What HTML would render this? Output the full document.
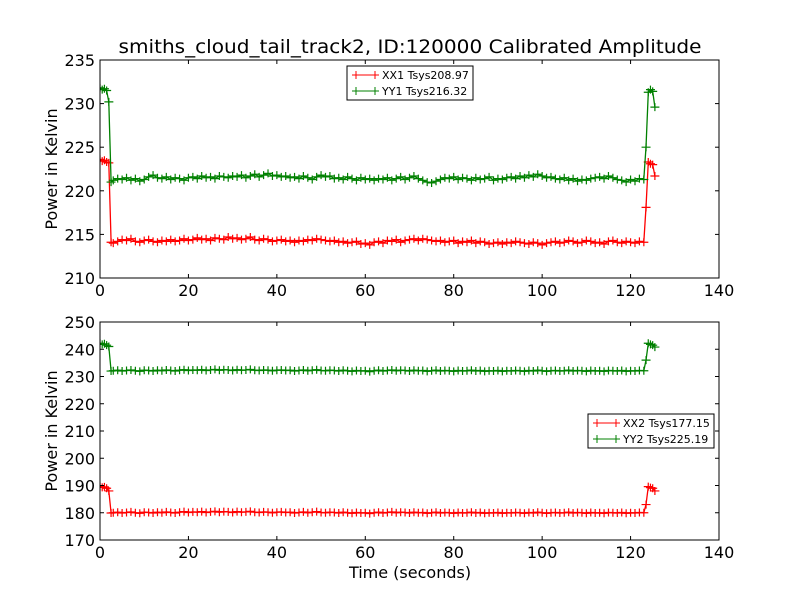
<!DOCTYPE html>
<html><head><meta charset="utf-8"><style>
body{margin:0;background:#fff;}
svg{display:block;font-family:"DejaVu Sans","Liberation Sans",sans-serif;}
</style></head><body>
<svg id="chart" width="800" height="600"></svg>
<script>
const times=[0,0.5,1,1.5,2,2.5].concat(Array.from({length:121},(_,i)=>3+i)).concat([123.5,124,124.5,125,125.5]);
const xx1=[223.6,223.4,223.5,223.3,223.2,214.1,
214.0,214.2,214.4,214.3,214.5,214.2,214.1,214.3,214.4,214.2,
214.1,214.3,214.2,214.4,214.2,214.3,214.5,214.3,214.4,214.6,
214.4,214.5,214.3,214.6,214.5,214.4,214.7,214.5,214.6,214.4,
214.5,214.7,214.4,214.3,214.5,214.4,214.2,214.3,214.4,214.2,
214.3,214.1,214.3,214.2,214.4,214.3,214.5,214.4,214.3,214.2,
214.3,214.1,214.2,214.0,214.1,214.2,213.9,214.0,213.8,214.1,
214.2,214.0,214.3,214.2,214.4,214.1,214.3,214.4,214.5,214.3,
214.5,214.4,214.3,214.2,214.3,214.1,214.2,214.3,214.0,214.2,
214.1,214.3,214.0,214.2,214.1,213.9,214.0,214.1,213.9,214.1,
214.0,214.2,214.1,214.0,213.9,214.1,214.0,213.8,214.0,214.1,
214.2,214.0,214.1,214.3,214.2,214.0,214.1,214.3,214.2,214.0,
214.1,213.9,214.2,214.3,214.1,214.0,214.2,214.1,214.0,214.2,
214.1,218.1,223.3,223.1,223.0,221.7];
const yy1=[231.8,231.6,231.7,231.5,230.2,221.0,
221.2,221.4,221.3,221.5,221.2,221.4,221.1,221.3,221.6,221.8,
221.5,221.4,221.6,221.3,221.5,221.4,221.2,221.5,221.6,221.4,
221.7,221.5,221.6,221.4,221.7,221.6,221.5,221.7,221.6,221.8,
221.5,221.7,221.9,221.6,221.8,222.0,221.7,221.8,221.6,221.7,
221.5,221.6,221.4,221.7,221.5,221.3,221.6,221.8,221.6,221.7,
221.4,221.5,221.3,221.6,221.4,221.2,221.5,221.3,221.4,221.2,
221.4,221.3,221.5,221.2,221.4,221.6,221.3,221.5,221.7,221.4,
221.2,221.0,220.9,221.1,221.3,221.5,221.4,221.6,221.3,221.5,
221.4,221.2,221.5,221.3,221.4,221.6,221.2,221.4,221.3,221.5,
221.6,221.4,221.7,221.5,221.8,221.6,221.9,221.7,221.5,221.6,
221.4,221.3,221.5,221.2,221.4,221.1,221.3,221.2,221.4,221.5,
221.6,221.4,221.7,221.5,221.3,221.2,221.0,221.3,221.1,221.4,
221.3,225.0,231.3,231.6,231.4,229.6];
const xx2=[189.6,189.3,189.5,189.0,188.0,179.9,
180.0,180.2,179.9,180.1,180.3,180.0,179.8,180.2,180.1,179.9,
180.2,180.0,180.3,180.1,179.9,180.2,180.4,180.1,180.3,180.2,
180.4,180.1,180.3,180.5,180.2,180.4,180.3,180.1,180.4,180.2,
180.3,180.5,180.2,180.1,180.3,180.2,180.0,180.2,180.3,180.1,
180.2,179.9,180.1,180.3,180.0,180.2,180.4,180.1,180.0,180.2,
180.1,179.9,180.2,180.0,179.8,180.1,179.9,180.0,179.7,180.0,
180.2,179.9,180.1,180.3,180.0,180.2,180.1,179.9,180.2,180.0,
180.1,179.8,180.0,180.2,179.9,180.1,180.0,179.8,180.1,179.9,
180.0,180.2,179.9,180.1,179.8,180.0,179.9,180.1,179.8,180.0,
179.9,180.1,180.0,179.8,180.1,179.9,180.2,180.0,179.8,180.0,
180.1,179.9,180.0,180.2,179.9,180.1,180.0,179.8,180.1,179.9,
180.0,179.8,180.1,180.0,179.9,180.1,179.8,180.0,179.9,180.1,
180.0,183.0,189.6,189.2,189.0,188.0];
const yy2=[242.2,241.8,242.0,241.5,241.0,232.0,
232.1,232.3,232.0,232.2,232.4,232.1,231.9,232.3,232.2,232.0,
232.3,232.1,232.4,232.2,232.0,232.3,232.5,232.2,232.4,232.3,
232.5,232.2,232.4,232.6,232.3,232.5,232.4,232.2,232.5,232.3,
232.4,232.6,232.3,232.2,232.4,232.3,232.1,232.3,232.4,232.2,
232.3,232.0,232.2,232.4,232.1,232.3,232.5,232.2,232.1,232.3,
232.2,232.0,232.3,232.1,231.9,232.2,232.0,232.1,231.8,232.1,
232.3,232.0,232.2,232.4,232.1,232.3,232.2,232.0,232.3,232.1,
232.2,231.9,232.1,232.3,232.0,232.2,232.1,231.9,232.2,232.0,
232.1,232.3,232.0,232.2,231.9,232.1,232.0,232.2,231.9,232.1,
232.0,232.2,232.1,231.9,232.2,232.0,232.3,232.1,231.9,232.1,
232.2,232.0,232.1,232.3,232.0,232.2,232.1,231.9,232.2,232.0,
232.1,231.9,232.2,232.1,232.0,232.2,231.9,232.1,232.0,232.2,
232.1,236.0,242.2,241.8,241.5,240.8];
const xTicks=[0,20,40,60,80,100,120,140];
const yTicksTop=[210,215,220,225,230,235];
const yTicksBot=[170,180,190,200,210,220,230,240,250];
const legendTop=["XX1 Tsys208.97","YY1 Tsys216.32"];
const legendBot=["XX2 Tsys177.15","YY2 Tsys225.19"];

const NS="http://www.w3.org/2000/svg";
const svg=document.getElementById('chart');
function mk(tag,attrs,parent){const e=document.createElementNS(NS,tag);for(const k in attrs)e.setAttribute(k,attrs[k]);(parent||svg).appendChild(e);return e;}
const X0=100,X1=719,xMin=0,xMax=140;
const xs=v=>X0+(v-xMin)/(xMax-xMin)*(X1-X0);

function panel(top,bot,ymin,ymax,yTicks,series,legend,lx,ly,name){
  const ys=v=>bot-(v-ymin)/(ymax-ymin)*(bot-top);
  const g=mk('g',{});
  
  
  mk('rect',{x:X0,y:top,width:X1-X0,height:bot-top,fill:'#fff',stroke:'none'},g);
  const clip=mk('clipPath',{id:'c'+name},g);
  mk('rect',{x:X0,y:top,width:X1-X0,height:bot-top},clip);
  series.forEach(s=>{
    const sg=mk('g',{'clip-path':'url(#c'+name+')'},g);
    
    
    const pts=times.map((t,i)=>xs(t).toFixed(1)+','+ys(s.vals[i]).toFixed(1)).join(' ');
    mk('polyline',{points:pts,fill:'none',stroke:s.color,'stroke-width':1.3},sg);
    let d='';
    times.forEach((t,i)=>{const x=xs(t),y=ys(s.vals[i]);d+=`M${x-4.5},${y}h9M${x},${y-4}v8`;});
    mk('path',{d:d,stroke:s.color,'stroke-width':1.2,fill:'none'},sg);
  });
  mk('rect',{x:X0,y:top,width:X1-X0,height:bot-top,fill:'none',stroke:'#000','stroke-width':1},g);
  xTicks.forEach(t=>{const x=xs(t);
    mk('line',{x1:x,x2:x,y1:bot,y2:bot-4,stroke:'#000'},g);
    mk('line',{x1:x,x2:x,y1:top,y2:top+4,stroke:'#000'},g);
    const tx=mk('text',{x:x,y:bot+18,'text-anchor':'middle','font-size':16},g);tx.textContent=t;
    
    
  });
  yTicks.forEach(t=>{const y=ys(t);
    mk('line',{x1:X0,x2:X0+4,y1:y,y2:y,stroke:'#000'},g);
    mk('line',{x1:X1,x2:X1-4,y1:y,y2:y,stroke:'#000'},g);
    const tx=mk('text',{x:X0-5,y:y+6,'text-anchor':'end','font-size':16},g);tx.textContent=t;
    
    
  });
  const yl=mk('text',{x:0,y:0,'text-anchor':'middle','font-size':16,transform:`translate(57,${(top+bot)/2}) rotate(-90)`},g);
  yl.textContent='Power in Kelvin';
  
  
  const lg=mk('g',{},g);
  
  
  mk('rect',{x:lx,y:ly,width:126,height:34,fill:'#fff',stroke:'#000'},lg);
  legend.forEach((lab,i)=>{const yy=ly+9+i*16,c=series[i].color;
    mk('line',{x1:lx+5,x2:lx+32,y1:yy,y2:yy,stroke:c},lg);
    mk('line',{x1:lx+9,x2:lx+9,y1:yy-4,y2:yy+4,stroke:c},lg);
    mk('line',{x1:lx+28,x2:lx+28,y1:yy-4,y2:yy+4,stroke:c},lg);
    const tx=mk('text',{x:lx+35,y:yy+4,'font-size':11},lg);tx.textContent=lab;
    
    
  });
}
panel(60,278,210,235,yTicksTop,[{name:'xx1-series',vals:xx1,color:'#ff0000'},{name:'yy1-series',vals:yy1,color:'#008000'}],legendTop,347,66,'top-panel');
panel(322,540,170,250,yTicksBot,[{name:'xx2-series',vals:xx2,color:'#ff0000'},{name:'yy2-series',vals:yy2,color:'#008000'}],legendBot,588,414,'bottom-panel');
const title=mk('text',{x:410,y:53,'text-anchor':'middle','font-size':19,textLength:583,lengthAdjust:'spacingAndGlyphs'});
title.textContent='smiths_cloud_tail_track2, ID:120000 Calibrated Amplitude';


const xt=mk('text',{x:410,y:578,'text-anchor':'middle','font-size':16});
xt.textContent='Time (seconds)';


</script>
</body></html>
